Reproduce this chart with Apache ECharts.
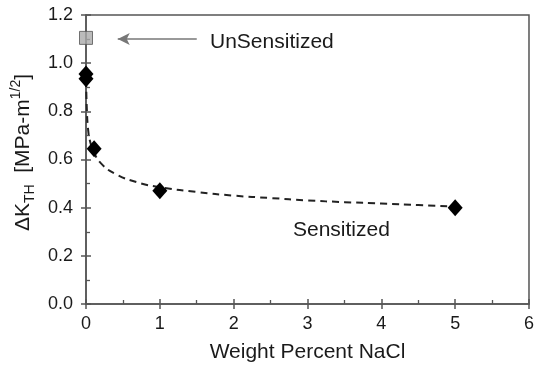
<!DOCTYPE html>
<html><head><meta charset="utf-8">
<script src="https://cdn.jsdelivr.net/npm/echarts@6/dist/echarts.min.js"></script>
<style>html,body{margin:0;padding:0;background:#fff}#c{width:537px;height:370px}</style>
</head><body><div id="c"></div>
<script>
const sensitizedPts = [[0, 0.955], [0, 0.935], [0.11, 0.645], [1, 0.47], [5, 0.40]];
const unsensitizedPts = [[0, 1.105]];
const fitCurve = [[0.002, 0.93], [0.01, 0.82], [0.03, 0.72], [0.06, 0.67], [0.1, 0.635], [0.2, 0.585], [0.4, 0.54], [0.7, 0.505], [1, 0.485], [1.5, 0.465], [2, 0.45], [2.5, 0.44], [3, 0.43], [3.5, 0.423], [4, 0.417], [4.5, 0.411], [5, 0.405]];
const xTicks = [0, 1, 2, 3, 4, 5, 6];
const yTicks = [0.0, 0.2, 0.4, 0.6, 0.8, 1.0, 1.2];
const arrowFrom = [1.5, 1.1], arrowTo = [0.43, 1.1];

const font = '"Liberation Sans", Arial, sans-serif';
const axisCol = '#555';
const txtCol = '#1a1a1a';
const chart = echarts.init(document.getElementById('c'));
const grid = {left: 86, right: 6, top: 15, bottom: 66, show: true, borderColor: axisCol, borderWidth: 1.5};
chart.setOption({
  animation: false,
  grid: grid,
  xAxis: [{
    type: 'value', min: xTicks[0], max: xTicks[xTicks.length-1], interval: 1,
    axisLine: {lineStyle: {color: axisCol, width: 1.5}},
    axisTick: {show: true, inside: false, length: 5, lineStyle: {color: axisCol, width: 1.5}},
    minorTick: {show: false},
    splitLine: {show: false},
    axisLabel: {color: txtCol, fontSize: 18, fontFamily: font, margin: 11, formatter: v => String(v)},
    name: 'Weight Percent NaCl', nameLocation: 'middle', nameGap: 38,
    nameTextStyle: {color: txtCol, fontSize: 21, fontFamily: font}
  }, {
    type: 'value', min: xTicks[0], max: xTicks[xTicks.length-1], interval: 1, position: 'bottom',
    axisLine: {show: false},
    axisTick: {show: true, inside: true, length: 5, lineStyle: {color: axisCol, width: 1.5}},
    minorTick: {show: true, splitNumber: 2, length: 4, lineStyle: {color: axisCol, width: 1.3}},
    axisLabel: {show: false}, splitLine: {show: false}
  }],
  yAxis: [{
    type: 'value', min: yTicks[0], max: yTicks[yTicks.length-1], interval: 0.2,
    axisLine: {lineStyle: {color: axisCol, width: 1.5}},
    axisTick: {show: true, inside: false, length: 5, lineStyle: {color: axisCol, width: 1.5}},
    splitLine: {show: false},
    axisLabel: {color: txtCol, fontSize: 18, fontFamily: font, margin: 13, formatter: v => v.toFixed(1)},
    name: '{n|ΔK}{s|TH}{n|  [MPa-m}{p|1/2}{n|]}', nameLocation: 'middle', nameGap: 48, nameRotate: 90,
    nameTextStyle: {color: txtCol, fontSize: 21, fontFamily: font, padding: [0, 0, 0, 14],
      rich: {
        n: {fontSize: 21, fontFamily: font, color: txtCol, lineHeight: 28, verticalAlign: 'middle'},
        s: {fontSize: 14, fontFamily: font, color: txtCol, lineHeight: 28, verticalAlign: 'bottom', padding: [8, 0, 0, 0]},
        p: {fontSize: 14, fontFamily: font, color: txtCol, lineHeight: 28, verticalAlign: 'top', padding: [0, 0, 10, 0]}
      }}
  }, {
    type: 'value', min: yTicks[0], max: yTicks[yTicks.length-1], interval: 0.2, position: 'left',
    axisLine: {show: false},
    axisTick: {show: true, inside: true, length: 5, lineStyle: {color: axisCol, width: 1.5}},
    minorTick: {show: true, splitNumber: 2, length: 4, lineStyle: {color: axisCol, width: 1.3}},
    axisLabel: {show: false}, splitLine: {show: false}
  }],
  series: [
    {type: 'line', data: fitCurve, smooth: true, showSymbol: false, symbol: 'none',
     lineStyle: {color: '#222', width: 2, type: [7, 5]}, z: 2,
     markLine: {silent: true, symbol: ['none', 'arrow'], symbolSize: [9, 12],
       lineStyle: {color: '#777', width: 1.5, type: 'solid'}, label: {show: false},
       data: [[{coord: arrowFrom}, {coord: arrowTo}]]}},
    {type: 'scatter', data: sensitizedPts, symbol: 'diamond', symbolSize: [15, 17],
     itemStyle: {color: '#000', opacity: 1}, z: 4},
    {type: 'scatter', data: unsensitizedPts, symbol: 'rect', symbolSize: 13,
     itemStyle: {color: '#aaa', borderColor: '#555', borderWidth: 1}, z: 4}
  ],
  graphic: [
    {type: 'text', left: 210, top: 32, style: {text: 'UnSensitized', fill: txtCol, font: '21px ' + font}},
    {type: 'text', left: 293, top: 220, style: {text: 'Sensitized', fill: txtCol, font: '21px ' + font}}
  ]
});
</script></body></html>
